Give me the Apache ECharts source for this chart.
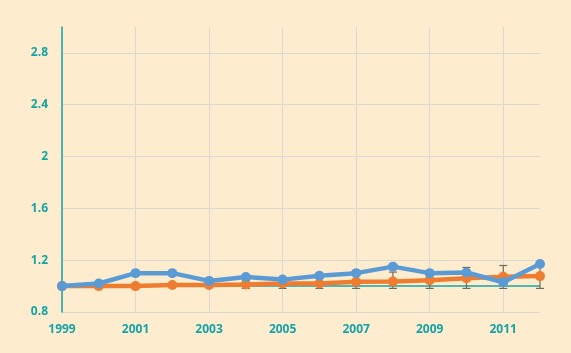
<!DOCTYPE html>
<html><head><meta charset="utf-8">
<script src="https://cdn.jsdelivr.net/npm/echarts@6/dist/echarts.min.js"></script>
<style>html,body{margin:0;padding:0;background:#FDEDCE;}#c{width:571px;height:353px;}</style>
</head><body><div id="c"></div>
<script>
const years = ['1999','2000','2001','2002','2003','2004','2005','2006','2007','2008','2009','2010','2011','2012'];
const blueValues = [1.00,1.02,1.10,1.10,1.04,1.07,1.05,1.08,1.10,1.15,1.10,1.105,1.03,1.17];
const orangeValues = [1.00,1.00,1.00,1.008,1.008,1.013,1.02,1.02,1.033,1.035,1.046,1.06,1.072,1.077];
const errLow = [null,null,null,null,null,0.982,0.982,0.982,0.982,0.982,0.982,0.982,0.982,0.982];
const errHigh = [null,null,null,null,null,1.044,1.059,1.059,1.085,1.108,1.110,1.144,1.159,1.171];
const yTicks = [0.8,1.2,1.6,2.0,2.4,2.8];
const refValue = 1.0;

const teal = '#14A3A8';
const gridColor = '#D9D8D3';
const errData = years.map((y,i)=>[i, errLow[i], errHigh[i]]).filter(d=>d[1]!=null);

const chart = echarts.init(document.getElementById('c'));
chart.setOption({
  backgroundColor: '#FDEDCE',
  animation: false,
  grid: {left: 62, right: 31, top: 27, bottom: 41},
  xAxis: {
    type: 'category', data: years, boundaryGap: false,
    axisLine: {show: false}, axisTick: {show: false},
    axisLabel: {interval: 1, color: teal, fontWeight: 'bold', fontSize: 12, fontFamily: 'Open Sans', margin: 12},
    splitLine: {show: true, interval: 1, lineStyle: {color: gridColor, width: 1}}
  },
  yAxis: {
    type: 'value', min: yTicks[0], max: 3.0, interval: 0.4,
    axisLine: {show: true, lineStyle: {color: teal, width: 1.5}},
    axisTick: {show: false},
    axisLabel: {color: teal, fontWeight: 'bold', fontSize: 12, fontFamily: 'Open Sans', margin: 14, showMaxLabel: false,
      formatter: v => String(Math.round(v*10)/10)},
    splitLine: {show: true, lineStyle: {color: [gridColor,gridColor,gridColor,gridColor,gridColor,gridColor,'rgba(0,0,0,0)'], width: 1}}
  },
  series: [
    {
      type: 'custom', z: 2, silent: true,
      renderItem: function(params, api) {
        const x = api.coord([api.value(0), api.value(1)])[0];
        const lo = api.coord([api.value(0), api.value(1)])[1];
        const hi = api.coord([api.value(0), api.value(2)])[1];
        const w = 4;
        const style = {stroke: '#6E6A66', lineWidth: 1.2};
        return {type: 'group', children: [
          {type: 'line', shape: {x1: x, y1: lo, x2: x, y2: hi}, style},
          {type: 'line', shape: {x1: x-w, y1: lo, x2: x+w, y2: lo}, style},
          {type: 'line', shape: {x1: x-w, y1: hi, x2: x+w, y2: hi}, style}
        ]};
      },
      encode: {x: 0, y: [1,2]},
      data: errData
    },
    {
      type: 'line', z: 3, data: orangeValues, color: '#EE7D31',
      symbol: 'circle', symbolSize: 10, lineStyle: {width: 4.5, color: '#EE7D31'},
      itemStyle: {color: '#EE7D31'},
      markLine: {silent: true, symbol: ['none','none'], label: {show: false},
        lineStyle: {color: teal, type: 'solid', width: 1.5}, data: [{yAxis: refValue}], z: 1}
    },
    {
      type: 'line', z: 4, data: blueValues, color: '#5B9BD5',
      symbol: 'circle', symbolSize: 10, lineStyle: {width: 4.5, color: '#5B9BD5'},
      itemStyle: {color: '#5B9BD5'}
    }
  ]
});
</script></body></html>
